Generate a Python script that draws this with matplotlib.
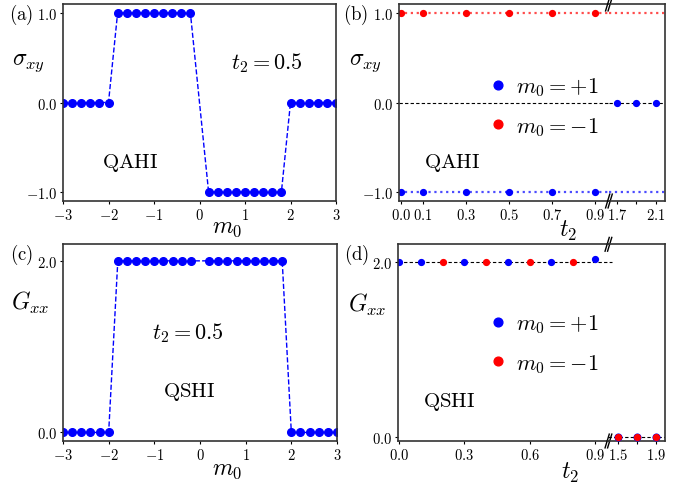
import matplotlib
matplotlib.use('Agg')
from matplotlib import pyplot as plt
from matplotlib.ticker import FuncFormatter
from matplotlib.lines import Line2D

plt.rcParams['mathtext.fontset'] = 'cm'
plt.rcParams['font.family'] = 'DejaVu Serif'

# (a) and (c): sweep over m0 at t2 = 0.5
m0 = [-3.0, -2.8, -2.6, -2.4, -2.2, -2.0, -1.8, -1.6, -1.4, -1.2,
      -1.0, -0.8, -0.6, -0.4, -0.2, 0.2, 0.4, 0.6, 0.8, 1.0,
      1.2, 1.4, 1.6, 1.8, 2.0, 2.2, 2.4, 2.6, 2.8, 3.0]
sigma_xy = [0, 0, 0, 0, 0, 0, 1, 1, 1, 1,
            1, 1, 1, 1, 1, -1, -1, -1, -1, -1,
            -1, -1, -1, -1, 0, 0, 0, 0, 0, 0]
G_xx = [0, 0, 0, 0, 0, 0, 2, 2, 2, 2,
        2, 2, 2, 2, 2, 2, 2, 2, 2, 2,
        2, 2, 2, 2, 0, 0, 0, 0, 0, 0]

# (b): sigma_xy vs t2
t2_b = [0.0, 0.1, 0.3, 0.5, 0.7, 0.9]
sig_b_minus = [1.0, 1.0, 1.0, 1.0, 1.0, 1.0]      # m0 = -1
sig_b_plus = [-1.0, -1.0, -1.0, -1.0, -1.0, -1.0]  # m0 = +1
t2_b_hi = [1.7, 1.9, 2.1]
sig_b_plus_hi = [0.0, 0.0, 0.0]
b_ticks_lo = [0.0, 0.1, 0.3, 0.5, 0.7, 0.9]
b_ticks_hi = [1.7, 1.9, 2.1]
b_labels_hi = ['1.7', '', '2.1']

# (d): G_xx vs t2
t2_d_plus = [0.0, 0.1, 0.3, 0.5, 0.7, 0.9]
G_d_plus = [2.0, 2.0, 2.0, 2.0, 2.0, 2.03]
t2_d_minus = [0.2, 0.4, 0.6, 0.8]
G_d_minus = [2.0, 2.0, 2.0, 2.0]
t2_d_hi = [1.5, 1.7, 1.9]
G_d_plus_hi = [0.0, 0.0, 0.0]
G_d_minus_hi = [0.0, 0.0, 0.0]
d_ticks_lo = [0.0, 0.3, 0.6, 0.9]
d_ticks_hi = [1.5, 1.7, 1.9]
d_labels_hi = ['1.5', '', '1.9']

W, H = 697, 489
fig = plt.figure(figsize=(W / 100, H / 100), dpi=100)

def px(x, y):
    return x / W, 1 - y / H

def rect(x0, x1, y0, y1):
    return [x0 / W, 1 - y1 / H, (x1 - x0) / W, (y1 - y0) / H]

fmt = FuncFormatter(lambda v, p: r'$%.1f$' % v)
spine_col = '#333333'
blue = '#0000ff'
red = '#ff0000'
tfs = 10.5

def style(ax):
    for s in ax.spines.values():
        s.set_color(spine_col)
        s.set_linewidth(1.2)
    ax.tick_params(labelsize=tfs, length=2.5, width=0.8, pad=1.5)
    ax.xaxis.set_major_formatter(fmt)
    ax.yaxis.set_major_formatter(fmt)

# ---- (a)
ax_a = fig.add_axes(rect(63, 336, 5, 202))
ax_a.plot(m0, sigma_xy, '--', color=blue, lw=1, marker='o', ms=5.5)
ax_a.set_xlim(-3, 3)
ax_a.set_ylim(-1.1, 1.1)
ax_a.set_yticks([-1, 0, 1])
ax_a.set_xticks([-3, -2, -1, 0, 1, 2, 3])
style(ax_a)
ax_a.xaxis.set_major_formatter(FuncFormatter(lambda v, p: r'$%d$' % v))

# ---- (c)
ax_c = fig.add_axes(rect(63, 337, 244.7, 442))
ax_c.plot(m0, G_xx, '--', color=blue, lw=1, marker='o', ms=5.5)
ax_c.set_xlim(-3, 3)
ax_c.set_ylim(-0.1, 2.2)
ax_c.set_yticks([0, 2])
ax_c.set_xticks([-3, -2, -1, 0, 1, 2, 3])
style(ax_c)
ax_c.xaxis.set_major_formatter(FuncFormatter(lambda v, p: r'$%d$' % v))

def broken(x0, xb, x1, y0, y1):
    a1 = fig.add_axes(rect(x0, xb, y0, y1))
    a2 = fig.add_axes(rect(xb, x1, y0, y1))
    a2.patch.set_visible(False)
    style(a1)
    style(a2)
    a1.spines['right'].set_visible(False)
    a2.spines['left'].set_visible(False)
    a2.tick_params(left=False, labelleft=False)
    # break marks
    d = 0.010
    for yy in (0, 1):
        for off in (-0.004, 0.008):
            xx = 1 + off
            a1.plot([xx - d, xx + d], [yy - 0.035, yy + 0.035], transform=a1.transAxes,
                    color='k', lw=1, clip_on=False, zorder=5)
    return a1, a2

# ---- (b)
b1, b2 = broken(399, 608.5, 665, 5, 202)
for a in (b1, b2):
    a.axhline(1.0, color=red, ls=':', lw=1.6, alpha=0.7)
    a.axhline(-1.0, color=blue, ls=':', lw=1.6, alpha=0.7)
    a.axhline(0.0, color='k', ls='--', lw=0.8, dashes=(3, 2))
    a.set_ylim(-1.1, 1.1)
b1.plot(t2_b, sig_b_minus, 'o', color=red, ms=4.2)
b1.plot(t2_b, sig_b_plus, 'o', color=blue, ms=4.2)
b2.plot(t2_b_hi, sig_b_plus_hi, 'o', color=blue, ms=4.2, zorder=4)
b1.set_xlim(-0.0093, 0.963)
b2.set_xlim(1.615, 2.198)
b1.set_yticks([-1, 0, 1])
b1.set_xticks(b_ticks_lo)
b2.set_xticks(b_ticks_hi)
b2.set_xticklabels([r'$%s$' % s if s else '' for s in b_labels_hi])

# ---- (d)
d1, d2 = broken(397.5, 608, 665, 245.3, 442)
d1.axhline(2.0, xmax=1.02, color='k', ls='--', lw=0.8, dashes=(3, 2), clip_on=False)
d2.axhline(0.0, color='k', ls='--', lw=0.8, dashes=(3, 2))
d1.plot(t2_d_plus, G_d_plus, 'o', color=blue, ms=4.2)
d1.plot(t2_d_minus, G_d_minus, 'o', color=red, ms=4.2)
d2.plot(t2_d_hi, G_d_plus_hi, 'o', color=blue, ms=4.8, zorder=4)
d2.plot(t2_d_hi, G_d_minus_hi, 'o', color=red, ms=4.2, zorder=4)
for a in (d1, d2):
    a.set_ylim(-0.04, 2.2)
d1.set_xlim(-0.008, 0.96)
d2.set_xlim(1.398, 1.998)
d1.set_yticks([0, 2])
d1.set_xticks(d_ticks_lo)
d2.set_xticks(d_ticks_hi)
d2.set_xticklabels([r'$%s$' % s if s else '' for s in d_labels_hi])

# legends
handles = [Line2D([], [], ls='none', marker='o', color=blue, ms=6.3),
           Line2D([], [], ls='none', marker='o', color=red, ms=6.3)]
labels = [r'$m_0=+1$', r'$m_0=-1$']
for a, yc in ((b1, 107.5), (d1, 344.5)):
    a.legend(handles, labels, loc='center left', bbox_to_anchor=px(467, yc),
             bbox_transform=fig.transFigure, frameon=False, fontsize=16,
             handlelength=1, handletextpad=0.3, labelspacing=0.75, borderpad=0.4)

# texts
def t(x, y, s, fs):
    fig.text(*px(x, y), s, fontsize=fs, ha='center', va='center')

t(21, 15, r'$\mathrm{(a)}$', 13.5)
t(356, 15, r'$\mathrm{(b)}$', 13.5)
t(21, 255, r'$\mathrm{(c)}$', 13.5)
t(357, 255, r'$\mathrm{(d)}$', 13.5)
t(28, 63, r'$\sigma_{xy}$', 17)
t(365, 63, r'$\sigma_{xy}$', 17)
t(30, 303, r'$G_{xx}$', 17)
t(367, 305, r'$G_{xx}$', 17)
t(227, 228, r'$m_0$', 17)
t(227, 470, r'$m_0$', 17)
t(568, 231, r'$t_2$', 17)
t(570, 473, r'$t_2$', 17)
t(267, 63, r'$t_2=0.5$', 16)
t(188, 333, r'$t_2=0.5$', 16)
t(130, 163, r'$\mathrm{QAHI}$', 15)
t(452, 163, r'$\mathrm{QAHI}$', 15)
t(189, 392, r'$\mathrm{QSHI}$', 15)
t(449, 402, r'$\mathrm{QSHI}$', 15)

fig.savefig('out.png', dpi=100)
